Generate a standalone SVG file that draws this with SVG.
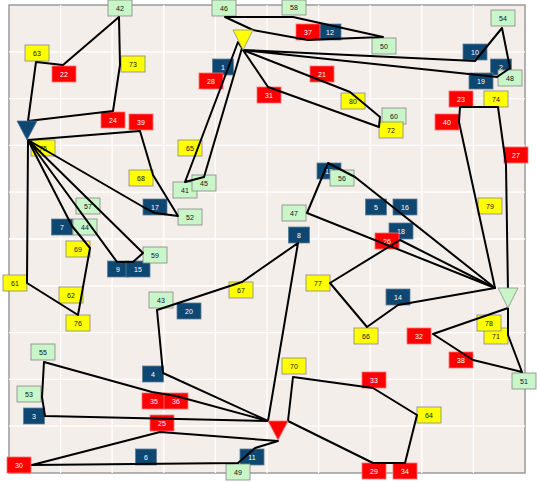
<svg xmlns="http://www.w3.org/2000/svg" width="537" height="482" viewBox="0 0 537 482">
<style>
.panel{fill:#f4eeea;stroke:#9a9a9a;stroke-width:1.5}
.grid line{stroke:#ffffff;stroke-width:1.3}
.route{fill:none;stroke:#000;stroke-width:2;stroke-linejoin:round;stroke-linecap:round}
.b{fill:#0e4772;stroke:#5f7f96;stroke-width:.8}
.r{fill:#ff0000;stroke:#ff7070;stroke-width:.8}
.y{fill:#ffff00;stroke:#858585;stroke-width:.8}
.g{fill:#c9f6c9;stroke:#858585;stroke-width:.8}
text{font-family:"Liberation Sans",Arial,sans-serif;font-size:7px;text-anchor:middle}
.tw{fill:#ffffff}
.tk{fill:#111111}
</style>
<rect class="panel" x="9" y="5" width="516" height="468"/>
<g class="grid">
<line x1="60.6" y1="5" x2="60.6" y2="473"/><line x1="112.2" y1="5" x2="112.2" y2="473"/><line x1="163.8" y1="5" x2="163.8" y2="473"/><line x1="215.4" y1="5" x2="215.4" y2="473"/><line x1="267" y1="5" x2="267" y2="473"/><line x1="318.6" y1="5" x2="318.6" y2="473"/><line x1="370.2" y1="5" x2="370.2" y2="473"/><line x1="421.8" y1="5" x2="421.8" y2="473"/><line x1="473.4" y1="5" x2="473.4" y2="473"/>
<line x1="9" y1="51.8" x2="525" y2="51.8"/><line x1="9" y1="98.6" x2="525" y2="98.6"/><line x1="9" y1="145.4" x2="525" y2="145.4"/><line x1="9" y1="192.2" x2="525" y2="192.2"/><line x1="9" y1="239" x2="525" y2="239"/><line x1="9" y1="285.8" x2="525" y2="285.8"/><line x1="9" y1="332.6" x2="525" y2="332.6"/><line x1="9" y1="379.4" x2="525" y2="379.4"/><line x1="9" y1="426.2" x2="525" y2="426.2"/>
</g>
<g id="labels">
<g id="n1"><rect class="b" x="212.5" y="59" width="21" height="16"/><text class="tw" x="223" y="69.5">1</text></g>
<g id="n2"><rect class="b" x="490.5" y="59" width="21" height="16"/><text class="tw" x="501" y="69.5">2</text></g>
<g id="n3"><rect class="b" x="23.5" y="408" width="21" height="16"/><text class="tw" x="34" y="418.5">3</text></g>
<g id="n4"><rect class="b" x="142.5" y="366" width="21" height="16"/><text class="tw" x="153" y="376.5">4</text></g>
<g id="n5"><rect class="b" x="365.5" y="199" width="21" height="16"/><text class="tw" x="376" y="209.5">5</text></g>
<g id="n6"><rect class="b" x="135.5" y="449" width="21" height="16"/><text class="tw" x="146" y="459.5">6</text></g>
<g id="n7"><rect class="b" x="51.5" y="219" width="21" height="16"/><text class="tw" x="62" y="229.5">7</text></g>
<g id="n8"><rect class="b" x="288.5" y="227" width="21" height="16"/><text class="tw" x="299" y="237.5">8</text></g>
<g id="n9"><rect class="b" x="107.5" y="261" width="21" height="16"/><text class="tw" x="118" y="271.5">9</text></g>
<g id="n15"><rect class="b" x="126" y="261" width="24" height="16"/><text class="tw" x="138" y="271.5">15</text></g>
<g id="n10"><rect class="b" x="463" y="44" width="24" height="16"/><text class="tw" x="475" y="54.5">10</text></g>
<g id="n11"><rect class="b" x="240" y="449" width="24" height="16"/><text class="tw" x="252" y="459.5">11</text></g>
<g id="n12"><rect class="b" x="319" y="24" width="22" height="16"/><text class="tw" x="330" y="34.5">12</text></g>
<g id="n13"><rect class="b" x="317" y="163" width="24" height="16"/><text class="tw" x="329" y="173.5">13</text></g>
<g id="n14"><rect class="b" x="386" y="289" width="24" height="16"/><text class="tw" x="398" y="299.5">14</text></g>
<g id="n16"><rect class="b" x="393" y="199" width="24" height="16"/><text class="tw" x="405" y="209.5">16</text></g>
<g id="n17"><rect class="b" x="143" y="199" width="24" height="16"/><text class="tw" x="155" y="209.5">17</text></g>
<g id="n18"><rect class="b" x="389" y="223" width="24" height="16"/><text class="tw" x="401" y="233.5">18</text></g>
<g id="n19"><rect class="b" x="469" y="73" width="24" height="16"/><text class="tw" x="481" y="83.5">19</text></g>
<g id="n20"><rect class="b" x="177" y="303" width="24" height="16"/><text class="tw" x="189" y="313.5">20</text></g>
<g id="n21"><rect class="r" x="310" y="66" width="24" height="16"/><text class="tw" x="322" y="76.5">21</text></g>
<g id="n22"><rect class="r" x="52" y="66" width="24" height="16"/><text class="tw" x="64" y="76.5">22</text></g>
<g id="n23"><rect class="r" x="449" y="91" width="24" height="16"/><text class="tw" x="461" y="101.5">23</text></g>
<g id="n24"><rect class="r" x="101" y="112" width="24" height="16"/><text class="tw" x="113" y="122.5">24</text></g>
<g id="n25"><rect class="r" x="150" y="415" width="24" height="16"/><text class="tw" x="162" y="425.5">25</text></g>
<g id="n26"><rect class="r" x="375" y="233" width="24" height="16"/><text class="tw" x="387" y="243.5">26</text></g>
<g id="n27"><rect class="r" x="504" y="147" width="24" height="16"/><text class="tw" x="516" y="157.5">27</text></g>
<g id="n28"><rect class="r" x="199" y="73" width="24" height="16"/><text class="tw" x="211" y="83.5">28</text></g>
<g id="n29"><rect class="r" x="362" y="463" width="24" height="16"/><text class="tw" x="374" y="473.5">29</text></g>
<g id="n30"><rect class="r" x="7" y="457" width="24" height="16"/><text class="tw" x="19" y="467.5">30</text></g>
<g id="n31"><rect class="r" x="257" y="87" width="24" height="16"/><text class="tw" x="269" y="97.5">31</text></g>
<g id="n32"><rect class="r" x="407" y="328" width="24" height="16"/><text class="tw" x="419" y="338.5">32</text></g>
<g id="n33"><rect class="r" x="362" y="372" width="24" height="16"/><text class="tw" x="374" y="382.5">33</text></g>
<g id="n34"><rect class="r" x="393" y="463" width="24" height="16"/><text class="tw" x="405" y="473.5">34</text></g>
<g id="n35"><rect class="r" x="142" y="393" width="24" height="16"/><text class="tw" x="154" y="403.5">35</text></g>
<g id="n36"><rect class="r" x="164" y="393" width="24" height="16"/><text class="tw" x="176" y="403.5">36</text></g>
<g id="n37"><rect class="r" x="296" y="24" width="24" height="16"/><text class="tw" x="308" y="34.5">37</text></g>
<g id="n38"><rect class="r" x="449" y="352" width="24" height="16"/><text class="tw" x="461" y="362.5">38</text></g>
<g id="n39"><rect class="r" x="129" y="114" width="24" height="16"/><text class="tw" x="141" y="124.5">39</text></g>
<g id="n40"><rect class="r" x="435" y="114" width="24" height="16"/><text class="tw" x="447" y="124.5">40</text></g>
<g id="n41"><rect class="g" x="173" y="182" width="24" height="16"/><text class="tk" x="185" y="192.5">41</text></g>
<g id="n45"><rect class="g" x="192" y="175" width="24" height="16"/><text class="tk" x="204" y="185.5">45</text></g>
<g id="n42"><rect class="g" x="108" y="0" width="24" height="16"/><text class="tk" x="120" y="10.5">42</text></g>
<g id="n43"><rect class="g" x="149" y="292" width="24" height="16"/><text class="tk" x="161" y="302.5">43</text></g>
<g id="n44"><rect class="g" x="73" y="219" width="24" height="16"/><text class="tk" x="85" y="229.5">44</text></g>
<g id="n46"><rect class="g" x="212" y="0" width="24" height="16"/><text class="tk" x="224" y="10.5">46</text></g>
<g id="n47"><rect class="g" x="282" y="205" width="24" height="16"/><text class="tk" x="294" y="215.5">47</text></g>
<g id="n49"><rect class="g" x="226" y="464" width="24" height="16"/><text class="tk" x="238" y="474.5">49</text></g>
<g id="n50"><rect class="g" x="372" y="38" width="24" height="16"/><text class="tk" x="384" y="48.5">50</text></g>
<g id="n51"><rect class="g" x="512" y="373" width="24" height="16"/><text class="tk" x="524" y="383.5">51</text></g>
<g id="n52"><rect class="g" x="178" y="209" width="24" height="16"/><text class="tk" x="190" y="219.5">52</text></g>
<g id="n53"><rect class="g" x="17" y="386" width="24" height="16"/><text class="tk" x="29" y="396.5">53</text></g>
<g id="n54"><rect class="g" x="491" y="10" width="24" height="16"/><text class="tk" x="503" y="20.5">54</text></g>
<g id="n55"><rect class="g" x="31" y="344" width="24" height="16"/><text class="tk" x="43" y="354.5">55</text></g>
<g id="n56"><rect class="g" x="330" y="170" width="24" height="16"/><text class="tk" x="342" y="180.5">56</text></g>
<g id="n57"><rect class="g" x="76" y="198" width="24" height="16"/><text class="tk" x="88" y="208.5">57</text></g>
<g id="n58"><rect class="g" x="282" y="0" width="24" height="15"/><text class="tk" x="294" y="10">58</text></g>
<g id="n59"><rect class="g" x="143" y="247" width="24" height="16"/><text class="tk" x="155" y="257.5">59</text></g>
<g id="n60"><rect class="g" x="382" y="108" width="24" height="16"/><text class="tk" x="394" y="118.5">60</text></g>
<g id="n48"><rect class="g" x="498" y="70" width="24" height="16"/><text class="tk" x="510" y="80.5">48</text></g>
<g id="n61"><rect class="y" x="3" y="275" width="24" height="16"/><text class="tk" x="15" y="285.5">61</text></g>
<g id="n62"><rect class="y" x="59" y="287" width="24" height="16"/><text class="tk" x="71" y="297.5">62</text></g>
<g id="n63"><rect class="y" x="25" y="45" width="24" height="16"/><text class="tk" x="37" y="55.5">63</text></g>
<g id="n64"><rect class="y" x="417" y="407" width="24" height="16"/><text class="tk" x="429" y="417.5">64</text></g>
<g id="n65"><rect class="y" x="178" y="140" width="24" height="16"/><text class="tk" x="190" y="150.5">65</text></g>
<g id="n66"><rect class="y" x="354" y="328" width="24" height="16"/><text class="tk" x="366" y="338.5">66</text></g>
<g id="n67"><rect class="y" x="229" y="282" width="24" height="16"/><text class="tk" x="241" y="292.5">67</text></g>
<g id="n68"><rect class="y" x="129" y="170" width="24" height="16"/><text class="tk" x="141" y="180.5">68</text></g>
<g id="n69"><rect class="y" x="66" y="241" width="24" height="16"/><text class="tk" x="78" y="251.5">69</text></g>
<g id="n70"><rect class="y" x="282" y="358" width="24" height="16"/><text class="tk" x="294" y="368.5">70</text></g>
<g id="n71"><rect class="y" x="484" y="328" width="24" height="16"/><text class="tk" x="496" y="338.5">71</text></g>
<g id="n78"><rect class="y" x="477" y="315" width="24" height="16"/><text class="tk" x="489" y="325.5">78</text></g>
<g id="n72"><rect class="y" x="379" y="122" width="24" height="16"/><text class="tk" x="391" y="132.5">72</text></g>
<g id="n73"><rect class="y" x="121" y="56" width="24" height="16"/><text class="tk" x="133" y="66.5">73</text></g>
<g id="n74"><rect class="y" x="484" y="91" width="24" height="16"/><text class="tk" x="496" y="101.5">74</text></g>
<g id="n75"><rect class="y" x="31" y="140" width="24" height="16"/><text class="tk" x="43" y="150.5">75</text></g>
<g id="n76"><rect class="y" x="66" y="315" width="24" height="16"/><text class="tk" x="78" y="325.5">76</text></g>
<g id="n77"><rect class="y" x="306" y="275" width="24" height="16"/><text class="tk" x="318" y="285.5">77</text></g>
<g id="n79"><rect class="y" x="478" y="198" width="24" height="16"/><text class="tk" x="490" y="208.5">79</text></g>
<g id="n80"><rect class="y" x="341" y="93" width="24" height="16"/><text class="tk" x="353" y="103.5">80</text></g>
</g>
<g id="connectors">
<path class="route" d="M28,121 L113,111 L120,65 L119,17 L63,65 L36,62 Z"/>
<path class="route" d="M28,140 L140,131 L153,175 L178,216 L155,213 L145,208 Z"/>
<path class="route" d="M28,140 L72,226 L90,248 L78,315 L27,283 Z"/>
<path class="route" d="M28,140 L117,262 L133,262 L143,253 Z"/>
<path class="route" d="M288,421 L293,377 L373,388 L417,415 L405,463 L373,463 Z"/>
<path class="route" d="M268,421 L298,243 L242,282 L157,310 L163,373 Z"/>
<path class="route" d="M268,421 L176,396 L152,392 L44,362 L42,397 L45,416 Z"/>
<path class="route" d="M278,441 L160,432 L32,465 L238,463 L255,448 Z"/>
<path class="route" d="M253,30 L225,17 L293,17 L383,37 L330,39 L308,40 Z"/>
<path class="route" d="M243,50 L475,61 L502,28 L510,68 L497,77 Z"/>
<path class="route" d="M243,50 L350,92 L380,117 L379,127 L268,87 Z"/>
<path class="route" d="M238,42 L185,182 L204,177 L242,48 Z"/>
<path class="route" d="M495,288 L355,177 L328,163 L307,213 Z"/>
<path class="route" d="M495,288 L400,240 L330,283 L367,327 L398,305 Z"/>
<path class="route" d="M495,288 L459,122 L460,107 L498,107 L506,165 L508,292"/>
<path class="route" d="M508,308 L433,334 L473,360 L522,372 L508,335 Z"/>
</g>
<g id="depot-blue"><polygon points="17,121 37,121 27,140" fill="#0e4772" stroke="#4f7290" stroke-width=".8"/></g>
<g id="depot-yellow"><polygon points="233,30 253,30 243,50" fill="#ffff00" stroke="#8a8a8a" stroke-width=".8"/></g>
<g id="depot-green"><polygon points="498,288 518,288 508,308" fill="#c9f6c9" stroke="#8a8a8a" stroke-width=".8"/></g>
<g id="depot-red"><polygon points="268,421 288,421 278,440" fill="#ff0000" stroke="#ff7070" stroke-width=".8"/></g>
</svg>
